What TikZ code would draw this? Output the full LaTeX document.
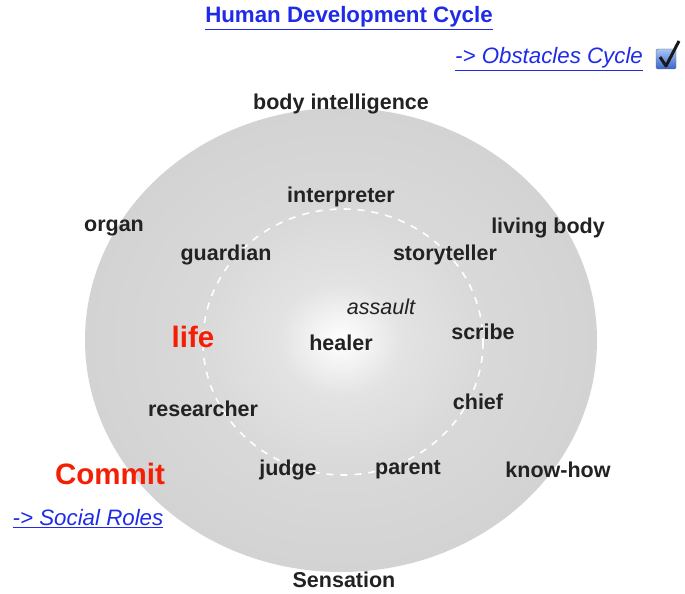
\documentclass[tikz,border=0pt]{standalone}
\usepackage{fontspec}
\setmainfont{Liberation Sans}
\usetikzlibrary{positioning}

\definecolor{inkgray}{HTML}{222222}
\definecolor{linkblue}{HTML}{1F2BE8}
\definecolor{hotred}{HTML}{F51E05}
\definecolor{ringgray}{HTML}{D3D3D3}
\definecolor{boxtop}{HTML}{A9C6F5}
\definecolor{boxbot}{HTML}{3764C8}

% soft white glow in the middle of the disc
\pgfdeclareradialshading{discglow}{\pgfpoint{0bp}{0bp}}{%
	color(0bp)=(white);
	color(6bp)=(black!11);
	color(14bp)=(black!15);
	color(25bp)=(ringgray);
	color(50bp)=(ringgray)}

\tikzset{
	role/.style={text=inkgray, font=\bfseries\fontsize{21.5}{24}\selectfont, inner sep=1pt},
	pole/.style={text=hotred, font=\bfseries\fontsize{29.5}{32}\selectfont, inner sep=1pt},
	link/.style={text=linkblue, font=\itshape\fontsize{22.3}{25}\selectfont, inner sep=1pt},
}

\begin{document}
\begin{tikzpicture}[x=1pt, y=-1pt]
	\useasboundingbox (0,0) rectangle (685,594);

	% the disc and the inner dashed ring
	\shade[shading=discglow] (341,340) ellipse [x radius=256, y radius=232];
	\draw[white, line width=1.6pt, dash pattern=on 7pt off 7pt] (343,342) ellipse [x radius=140, y radius=133];

	% heading and links
	\node[link, font=\bfseries\fontsize{22.3}{25}\selectfont] (title) at (349,18) {\underline{Human Development Cycle}};
	\node[link] (obstacles) at (549,59) {\underline{-> Obstacles Cycle}};
	\node[link] (social) at (88,519) {\underline{-> Social Roles}};

	% checkbox
	\shade[top color=boxtop, bottom color=boxbot, draw=black!60, rounded corners=1.5pt]
		(656,49) rectangle (676,69);
	\draw[black!90, line width=3pt, line join=round] (660,57) -- (666,66) -- (679,41);

	% outer ring
	\node[role] (body) at (341,104) {body intelligence};
	\node[role] (organ) at (114,228) {organ};
	\node[role] (living) at (548,228) {living body};
	\node[role] (knowhow) at (558,470) {know-how};
	\node[role] (sensation) at (344,580) {Sensation};

	% inner ring
	\node[role] (interpreter) at (341,197) {interpreter};
	\node[role] (guardian) at (226,255) {guardian};
	\node[role] (storyteller) at (445,255) {storyteller};
	\node[role] (scribe) at (483,332) {scribe};
	\node[role] (researcher) at (203,409) {researcher};
	\node[role] (chief) at (478,402) {chief};
	\node[role] (judge) at (288,470) {judge};
	\node[role] (parent) at (408,470) {parent};

	% centre
	\node[role, font=\itshape\fontsize{21.5}{24}\selectfont] (assault) at (381,307) {assault};
	\node[role] (healer) at (341,343) {healer};

	\node[pole] (life) at (193,337) {life};
	\node[pole] (commit) at (110,474) {Commit};
\end{tikzpicture}
\end{document}
